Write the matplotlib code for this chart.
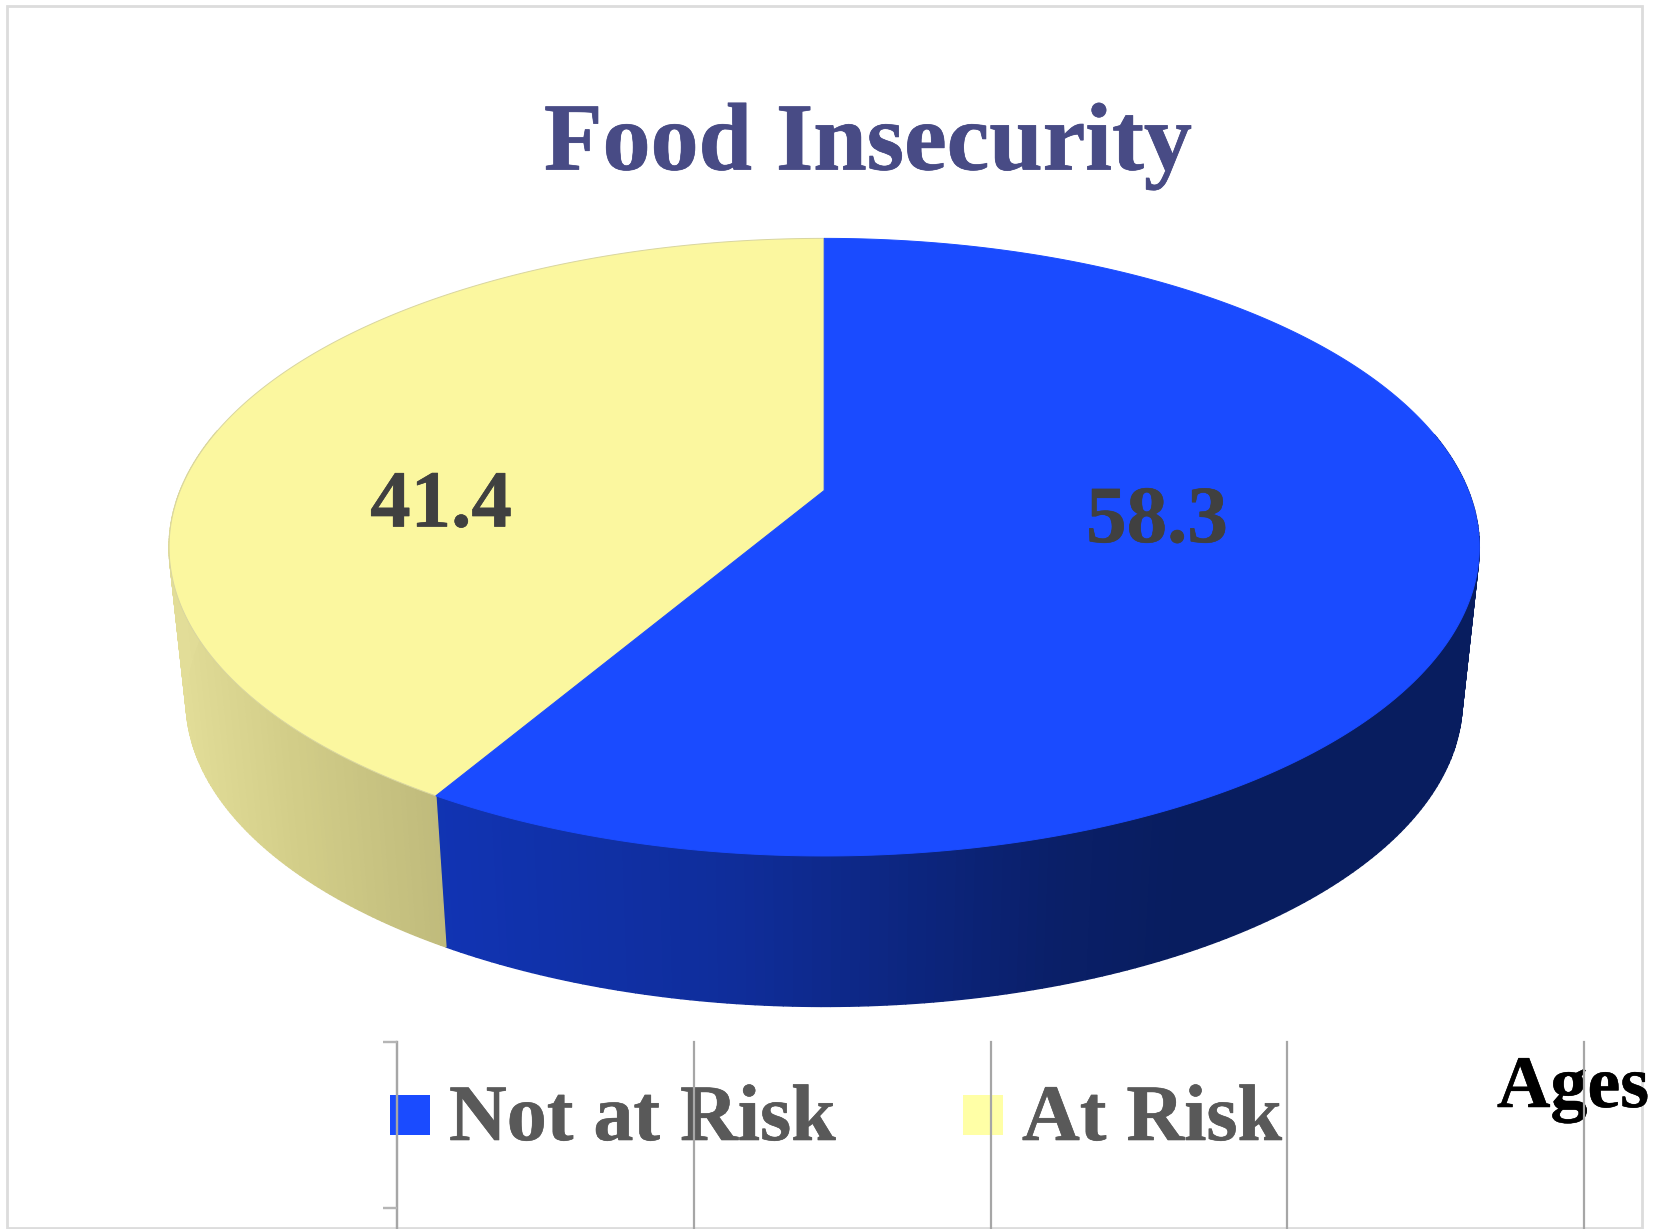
import numpy as np
import matplotlib
matplotlib.use("Agg")
import matplotlib.pyplot as plt
import matplotlib.patheffects as pe
from matplotlib.collections import PolyCollection
from matplotlib.colors import to_rgb
from matplotlib.patches import Rectangle

# ---- data ----
categories = ["Not at Risk", "At Risk"]
values = [58.3, 41.4]
title = "Food Insecurity"
stray_label = "Ages"
grid_positions = [0, 1, 2, 3, 4]

# ---- styles ----
W, H = 1661, 1229
DPI = 100
top_colors = ["#1a4bff", "#fbf79f"]
legend_colors = ["#1a4bff", "#ffffa6"]
side_stops_x = [[430, 740, 1060, 1180], [180, 300, 440]]
side_stops_c = [["#1134b4", "#0f2d9a", "#0a1f68", "#081d5f"],
                ["#e2dd98", "#d2cd88", "#c0bb7c"]]
rim_colors = ["#1a4bff", "#d8d5a0"]
SERIF = "Liberation Serif"


def px(size):
    return size * 72 / DPI


def heavy(color, width):
    return [pe.withStroke(linewidth=px(width), foreground=color)]


X0, Y0, A, B, K = 824.2, 490.5, 644.0, 298.4, 0.1835
CY, SHRINK_X, SHRINK_Y, DROP = 546.6, 0.974, 0.99, 153.6


def top_rim(theta):
    u, v = np.sin(theta), np.cos(theta)
    w = 1 + K * v
    return X0 + A * u / w, Y0 - B * v / w


def low_rim(theta):
    x, y = top_rim(theta)
    return X0 + (x - X0) * SHRINK_X, CY + (y - CY) * SHRINK_Y + DROP


fig = plt.figure(figsize=(W / DPI, H / DPI), dpi=DPI, facecolor="white")
ax = fig.add_axes([0, 0, 1, 1])
ax.set_xlim(0, W)
ax.set_ylim(H, 0)
ax.axis("off")

ax.add_patch(Rectangle((7, 6), 1635, 1222, fill=False, ec="#dcdcdc", lw=2.0, zorder=1))

# slices: clockwise from twelve o'clock
edges = np.concatenate([[0], np.cumsum(values)]) / np.sum(values) * 2 * np.pi
for i, (a0, a1) in enumerate(zip(edges[:-1], edges[1:])):
    th = np.linspace(a0, a1, 300)
    xt, yt = top_rim(th)
    xl, yl = low_rim(th)
    quads, cols = [], []
    rgb = np.array([to_rgb(c) for c in side_stops_c[i]])
    for j in range(len(th) - 1):
        if np.cos(th[j]) > 0.2:
            continue
        quads.append([(xt[j], yt[j]), (xt[j + 1], yt[j + 1]), (xl[j + 1], yl[j + 1]), (xl[j], yl[j])])
        xm = (xt[j] + xl[j]) / 2
        cols.append([np.interp(xm, side_stops_x[i], rgb[:, n]) for n in range(3)])
    ax.add_collection(PolyCollection(quads, facecolors=cols, edgecolors=cols, linewidths=1.0, zorder=2))

for i in [1, 0]:
    th = np.linspace(edges[i], edges[i + 1], 800)
    xt, yt = top_rim(th)
    ax.fill(np.r_[X0, xt], np.r_[Y0, yt], fc=top_colors[i], ec=rim_colors[i], lw=0.7, zorder=3)

# value labels
label_pos = [(1157, 542), (441, 526.5)]
for val, (lx, ly) in zip(values, label_pos):
    ax.text(lx, ly, f"{val:.1f}", family=SERIF, weight="bold", fontsize=px(81),
            color="#404040", ha="center", va="baseline", zorder=4,
            path_effects=heavy("#404040", 0.6))

# title
ax.text(868, 169.5, title, family=SERIF, weight="bold", fontsize=px(96),
        color="#484b85", ha="center", va="baseline", zorder=4,
        path_effects=heavy("#484b85", 0.7))

# legend
legend_box_x = [390, 963]
legend_text_x = [449, 1022]
for name, col, bx, tx in zip(categories, legend_colors, legend_box_x, legend_text_x):
    ax.add_patch(Rectangle((bx, 1095), 40, 40, fc=col, ec="none", zorder=4))
    ax.text(tx, 1140, name, family=SERIF, weight="bold", fontsize=px(80),
            color="#595959", ha="left", va="baseline", zorder=4,
            path_effects=heavy("#595959", 0.6))

ax.text(1497, 1107, stray_label, family=SERIF, weight="bold", fontsize=px(74),
        color="black", ha="left", va="baseline", zorder=4,
        path_effects=heavy("black", 0.5))

# remnants of an underlying axis
AX_L, AX_R, AX_T, AX_B = 397, 1584, 1042, 1228
ax2 = fig.add_axes([AX_L / W, 1 - AX_B / H, (AX_R - AX_L) / W, (AX_B - AX_T) / H], zorder=5)
ax2.patch.set_alpha(0)
ax2.set_xlim(grid_positions[0], grid_positions[-1])
ax2.set_ylim(AX_B, AX_T)
ax2.set_xticks(grid_positions)
ax2.set_yticks([1042, 1208])
ax2.tick_params(axis="x", length=0, labelbottom=False)
ax2.tick_params(axis="y", length=px(14), width=px(2.4), color="#b5b5b5", labelleft=False)
ax2.grid(axis="x", color="#a6a6a6", lw=px(2.2))
for side in ["top", "right", "bottom"]:
    ax2.spines[side].set_visible(False)
ax2.spines["left"].set_color("#a6a6a6")
ax2.spines["left"].set_linewidth(px(2.2))
ax2.set_axisbelow(False)
for g in ax2.get_xgridlines():
    g.set_clip_on(False)

fig.savefig("out.png", dpi=DPI, facecolor="white")
